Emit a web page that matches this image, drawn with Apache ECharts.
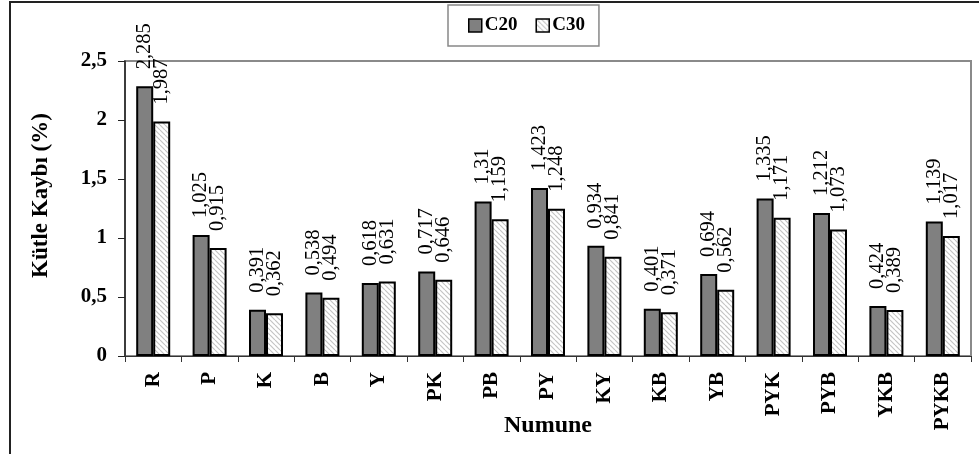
<!DOCTYPE html>
<html>
<head>
<meta charset="utf-8">
<script src="https://cdn.jsdelivr.net/npm/echarts@6/dist/echarts.min.js"></script>
<style>
  html, body { margin: 0; padding: 0; background: #fff; }
  #chart { width: 979px; height: 454px; }
</style>
</head>
<body>
<div id="chart"></div>
<script>
const categories = ['R', 'P', 'K', 'B', 'Y', 'PK', 'PB', 'PY', 'KY', 'KB', 'YB', 'PYK', 'PYB', 'YKB', 'PYKB'];
const c20 = [2.285, 1.025, 0.391, 0.538, 0.618, 0.717, 1.31, 1.423, 0.934, 0.401, 0.694, 1.335, 1.212, 0.424, 1.139];
const c30 = [1.987, 0.915, 0.362, 0.494, 0.631, 0.646, 1.159, 1.248, 0.841, 0.371, 0.562, 1.171, 1.073, 0.389, 1.017];

const serif = "'Liberation Serif', 'Times New Roman', serif";
const comma = v => String(v).replace('.', ',');

// hatch pattern for C30 bars
const hatch = document.createElement('canvas');
hatch.width = 5;
hatch.height = 5;
const hc = hatch.getContext('2d');
hc.fillStyle = '#fff';
hc.fillRect(0, 0, 5, 5);
hc.strokeStyle = '#c4c4c4';
hc.lineWidth = 1.2;
for (const k of [-5, 0, 5]) {
    hc.beginPath();
    hc.moveTo(k, 0);
    hc.lineTo(k + 5, 5);
    hc.stroke();
}

const valueLabel = {
    show: true,
    position: 'top',
    rotate: 90,
    align: 'left',
    verticalAlign: 'middle',
    distance: 17,
    fontFamily: serif,
    fontSize: 20.5,
    color: '#000',
    formatter: p => comma(p.value)
};

const chart = echarts.init(document.getElementById('chart'), null, { renderer: 'canvas' });
chart.setOption({
    animation: false,
    backgroundColor: '#fff',
    graphic: [{
        type: 'rect',
        shape: { x: 10, y: 2, width: 1000, height: 500 },
        style: { fill: 'none', stroke: '#222', lineWidth: 2 },
        silent: true
    }],
    legend: {
        left: 448,
        top: 5,
        padding: [11, 14, 11, 20],
        itemWidth: 13,
        itemHeight: 13,
        itemGap: 18,
        borderColor: '#888',
        borderWidth: 1.5,
        textStyle: { fontFamily: serif, fontSize: 19, fontWeight: 'bold', color: '#000', padding: [0, 0, 0, -2] },
        data: [
            { name: 'C20', icon: 'rect', itemStyle: { color: '#808080', borderColor: '#000', borderWidth: 1.5 } },
            { name: 'C30', icon: 'rect', itemStyle: { color: { image: hatch, repeat: 'repeat' }, borderColor: '#000', borderWidth: 1.5 } }
        ]
    },
    grid: {
        left: 125,
        right: 8,
        top: 61,
        bottom: 98,
        containLabel: false,
        outerBoundsMode: 'none',
        show: true,
        borderColor: '#8a8a8a',
        borderWidth: 2,
        backgroundColor: 'transparent'
    },
    xAxis: {
        type: 'category',
        data: categories,
        name: 'Numune',
        nameLocation: 'middle',
        nameGap: 58,
        nameMoveOverlap: false,
        nameTextStyle: { fontFamily: serif, fontSize: 24, fontWeight: 'bold', color: '#000' },
        axisLine: { lineStyle: { color: '#333', width: 1 } },
        axisTick: { show: true, length: 6, lineStyle: { color: '#333' } },
        axisLabel: {
            rotate: 90,
            margin: 16,
            fontFamily: serif,
            fontSize: 21,
            fontWeight: 'bold',
            color: '#000'
        },
        splitLine: { show: false }
    },
    yAxis: {
        type: 'value',
        min: 0,
        max: 2.5,
        interval: 0.5,
        name: 'Kütle Kaybı (%)',
        nameLocation: 'middle',
        nameGap: 72,
        nameMoveOverlap: false,
        nameTextStyle: { fontFamily: serif, fontSize: 23, fontWeight: 'bold', color: '#000', padding: [0, 0, 0, 26] },
        axisLine: { show: true, lineStyle: { color: '#222', width: 1.5 } },
        axisTick: { show: true, length: 7, lineStyle: { color: '#222' } },
        axisLabel: {
            margin: 18,
            fontFamily: serif,
            fontSize: 21,
            fontWeight: 'bold',
            color: '#000',
            formatter: v => comma(v)
        },
        splitLine: { show: false }
    },
    series: [
        {
            name: 'C20',
            type: 'bar',
            data: c20,
            barWidth: 17,
            barGap: '0%',
            itemStyle: { color: '#808080', borderColor: '#000', borderWidth: 2 },
            label: valueLabel
        },
        {
            name: 'C30',
            type: 'bar',
            data: c30,
            barWidth: 17,
            barGap: '0%',
            itemStyle: { color: { image: hatch, repeat: 'repeat' }, borderColor: '#000', borderWidth: 2 },
            label: valueLabel
        }
    ]
});
</script>
</body>
</html>
